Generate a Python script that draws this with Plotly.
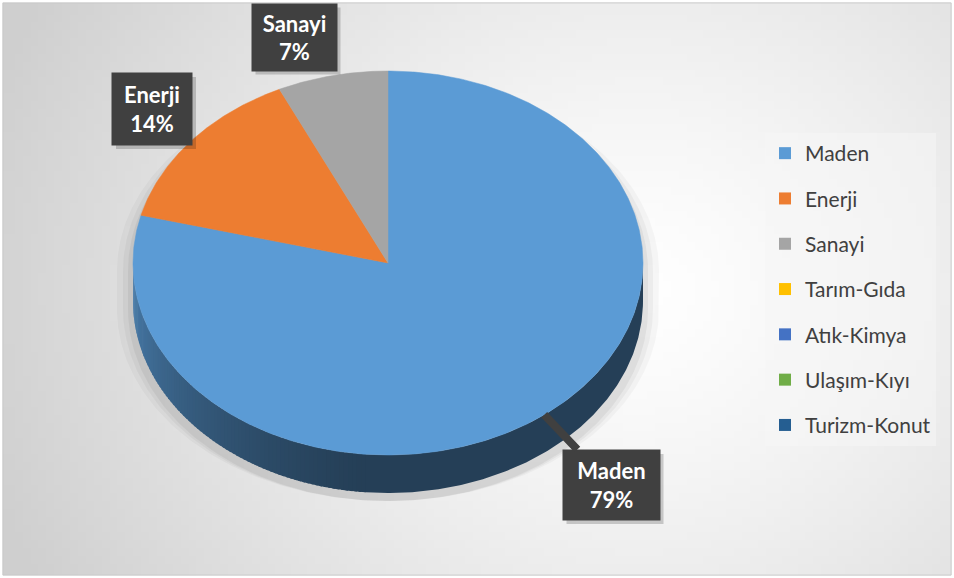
import math, zlib, struct, base64
import plotly.graph_objects as go

# ---------------- data ----------------
categories = ["Maden", "Enerji", "Sanayi", "Tarım-Gıda", "Atık-Kimya", "Ulaşım-Kıyı", "Turizm-Konut"]
values = [79, 14, 7, 0, 0, 0, 0]
colors = ["#5B9BD5", "#ED7D31", "#A5A5A5", "#FFC000", "#4472C4", "#70AD47", "#255E91"]

# ---------------- layout constants ----------------
W, H = 954, 578
CX, CY, RX, RY, DEPTH = 388, 263, 255, 192, 38
# label box centres (pixel space), box sizes, pointer shown
label_pos = {"Maden": (611, 485), "Enerji": (152, 109), "Sanayi": (294, 37)}
label_size = {"Maden": (87, 60), "Enerji": (70, 62), "Sanayi": (75, 57)}
label_arrow = {"Maden": True, "Enerji": True, "Sanayi": False}

FONT = "Lato"


def hex2rgb(h):
    h = h.lstrip("#")
    return tuple(int(h[i:i + 2], 16) for i in (0, 2, 4))


def shade(hexc, f):
    r, g, b = hex2rgb(hexc)
    return "rgb(%d,%d,%d)" % (r * f, g * f, b * f)


def pt(theta_deg, dy=0.0):
    t = math.radians(theta_deg)
    return CX + RX * math.sin(t), CY - RY * math.cos(t) + dy


def arc(a, b, dy=0.0, step=1.0):
    n = max(2, int(abs(b - a) / step) + 1)
    xs, ys = [], []
    for i in range(n + 1):
        th = a + (b - a) * i / n
        x, y = pt(th, dy)
        xs.append(x)
        ys.append(y)
    return xs, ys


# ---------------- background gradient as PNG ----------------
def make_png(w, h, fn):
    raw = bytearray()
    for j in range(h):
        raw.append(0)
        for i in range(w):
            raw.append(fn(i, j))

    def chunk(tag, data):
        c = struct.pack(">I", len(data)) + tag + data
        return c + struct.pack(">I", zlib.crc32(tag + data) & 0xffffffff)

    png = b"\x89PNG\r\n\x1a\n"
    png += chunk(b"IHDR", struct.pack(">IIBBBBB", w, h, 8, 0, 0, 0, 0))
    png += chunk(b"IDAT", zlib.compress(bytes(raw), 9))
    png += chunk(b"IEND", b"")
    return "data:image/png;base64," + base64.b64encode(png).decode()


GW, GH = 120, 73


def grad(i, j):
    x = i / (GW - 1) * W
    y = j / (GH - 1) * H
    d = math.hypot(x - 640, (y - 290) * 1.1)
    v = 255 - 48 * min(1.0, (d / 700.0)) ** 1.3
    return int(max(0, min(255, v)))


bg_uri = make_png(GW, GH, grad)

fig = go.Figure()

total = sum(values)
starts = []
acc = 0.0
for v in values:
    starts.append(acc / total * 360.0)
    acc += v

# soft shadow behind the pie (mostly visible left / right)
for k, op in [(16, 0.03), (10, 0.04), (5, 0.05)]:
    t_x, t_y = arc(-90, 90, 0)
    b_x, b_y = arc(90, 270, DEPTH)
    xs = [CX + (x - CX) * (1 + k / RX) for x in t_x + b_x]
    ys = [y + 8 for y in t_y + b_y]
    fig.add_trace(go.Scatter(x=xs, y=ys, fill="toself", mode="lines",
                             line=dict(width=0), fillcolor="rgba(0,0,0,%g)" % op,
                             hoverinfo="skip", showlegend=False))

# side walls (front half, 90..270 degrees clockwise from top)
for cat, v, c, s in zip(categories, values, colors, starts):
    if v <= 0:
        continue
    e = s + v / total * 360.0
    a, b = max(s, 90.0), min(e, 270.0)
    if b <= a:
        continue
    split = min(max(a, 185.0), b)
    if split > a:
        col = shade(c, 0.41)
        tx, ty = arc(a, split + 0.5, 0, 0.5)
        bx, by = arc(split + 0.5, a, DEPTH, 0.5)
        fig.add_trace(go.Scatter(x=tx + bx, y=ty + by, fill="toself", mode="lines",
                                 line=dict(width=0), fillcolor=col,
                                 hoverinfo="skip", showlegend=False))
    step = 1.0
    th = split
    while th < b - 1e-9:
        th2 = min(b, th + step)
        mid = (th + th2) / 2
        f = 0.41 + 0.41 * ((mid - 185) / 85.0) ** 1.3
        col = shade(c, f)
        tx, ty = arc(th, min(b, th2 + 0.6), 0, 0.3)
        bx, by = arc(min(b, th2 + 0.6), th, DEPTH, 0.3)
        fig.add_trace(go.Scatter(x=tx + bx, y=ty + by, fill="toself", mode="lines",
                                 line=dict(width=0), fillcolor=col,
                                 hoverinfo="skip", showlegend=False))
        th = th2

# top faces
for cat, v, c, s in zip(categories, values, colors, starts):
    if v <= 0:
        continue
    e = s + v / total * 360.0
    ax_, ay_ = arc(s, e, 0, 0.5)
    xs = [CX] + ax_ + [CX]
    ys = [CY] + ay_ + [CY]
    fig.add_trace(go.Scatter(x=xs, y=ys, fill="toself", mode="lines",
                             line=dict(width=0.5, color=c), fillcolor=c,
                             name=cat, hoverinfo="name", showlegend=False))

# legend entries
for cat, c in zip(categories, colors):
    fig.add_trace(go.Scatter(x=[None], y=[None], mode="markers",
                             marker=dict(symbol="square", size=13, color=c),
                             name=cat, legendgroup=cat, showlegend=True))

# data labels (callouts)
annotations = []
shapes = []
PAD = 5
for cat, v, s in zip(categories, values, starts):
    if v <= 0 or cat not in label_pos:
        continue
    e = s + v / total * 360.0
    mid = (s + e) / 2
    tipx, tipy = pt(mid)
    bx, by = label_pos[cat]
    bw, bh = label_size[cat]
    pct = round(100 * v / total)
    txt = "<b>%s</b><br><b>%d%%</b>" % (cat, pct)
    hw, hh = bw / 2 + PAD, bh / 2 + PAD
    shapes.append(dict(type="rect", xref="x", yref="y", x0=bx - hw + 4, x1=bx + hw + 4,
                       y0=by - hh + 4, y1=by + hh + 4, line=dict(width=0),
                       fillcolor="rgba(0,0,0,0.18)", layer="above"))
    if label_arrow[cat]:
        annotations.append(dict(x=tipx, y=tipy, xref="x", yref="y", ax=bx, ay=by,
                                axref="x", ayref="y", text=txt, showarrow=True,
                                arrowhead=0, arrowwidth=8, arrowcolor="#404040",
                                width=bw, height=bh, borderpad=PAD, bgcolor="#404040",
                                font=dict(family=FONT, size=22, color="white")))
    else:
        annotations.append(dict(x=bx, y=by, xref="x", yref="y", text=txt, showarrow=False,
                                width=bw, height=bh, borderpad=PAD, bgcolor="#404040",
                                font=dict(family=FONT, size=22, color="white")))

shapes.append(dict(type="rect", xref="paper", yref="paper", x0=0.003, x1=0.997,
                   y0=0.005, y1=0.995, line=dict(color="#c8c8c8", width=1)))

fig.update_layout(
    width=W, height=H, autosize=False,
    margin=dict(l=0, r=0, t=0, b=0),
    paper_bgcolor="white", plot_bgcolor="rgba(0,0,0,0)",
    xaxis=dict(range=[0, W], visible=False, fixedrange=True),
    yaxis=dict(range=[H, 0], visible=False, fixedrange=True),
    showlegend=True,
    legend=dict(x=765 / W, y=1 - 133 / H, xanchor="left", yanchor="top",
                bgcolor="rgba(245,245,245,0.55)", borderwidth=0,
                font=dict(family=FONT, size=21, color="#404040"),
                tracegroupgap=15, itemsizing="constant"),
    images=[dict(source=bg_uri, xref="paper", yref="paper", x=0.003, y=0.995,
                 sizex=0.994, sizey=0.99, sizing="stretch", layer="below",
                 xanchor="left", yanchor="top")],
    shapes=shapes,
    annotations=annotations,
    hovermode="closest",
)

fig.write_html("out.html", config={"displayModeBar": False},
               post_script="document.body.style.margin='0px';")
